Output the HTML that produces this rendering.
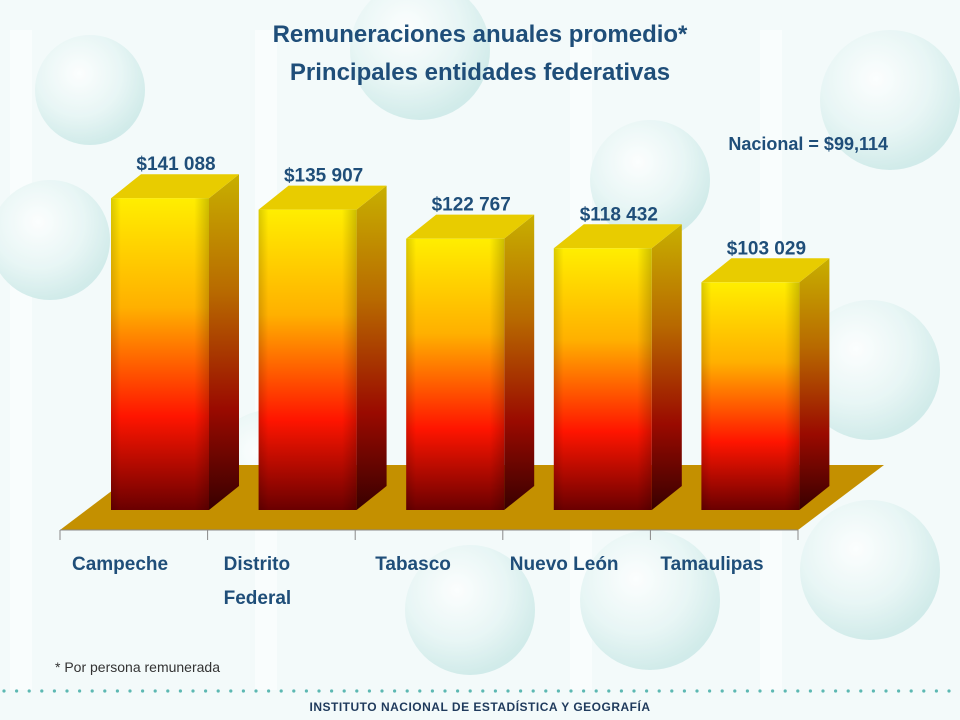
<!DOCTYPE html>
<html><head><meta charset="utf-8"><style>
body{margin:0;width:960px;height:720px;overflow:hidden;font-family:"Liberation Sans",sans-serif}
svg{display:block}
</style></head><body>
<svg width="960" height="720" viewBox="0 0 960 720">
<defs>
<radialGradient id="bub" cx="40%" cy="35%" r="65%"><stop offset="0" stop-color="#ffffff"/><stop offset="0.6" stop-color="#e4f4f3"/><stop offset="1" stop-color="#c6e6e4"/></radialGradient>
<linearGradient id="front" x1="0" y1="0" x2="0" y2="1"><stop offset="0" stop-color="#ffee00"/><stop offset="0.35" stop-color="#ffb000"/><stop offset="0.7" stop-color="#ff1500"/><stop offset="1" stop-color="#6a0000"/></linearGradient>
<linearGradient id="frontSh" x1="0" y1="0" x2="1" y2="0"><stop offset="0" stop-color="#000" stop-opacity="0.15"/><stop offset="0.1" stop-color="#000" stop-opacity="0"/><stop offset="0.85" stop-color="#000" stop-opacity="0"/><stop offset="1" stop-color="#000" stop-opacity="0.2"/></linearGradient>
<linearGradient id="side" x1="0" y1="0" x2="0" y2="1"><stop offset="0" stop-color="#c8b000"/><stop offset="0.35" stop-color="#b86a00"/><stop offset="0.7" stop-color="#9a0a00"/><stop offset="1" stop-color="#380000"/></linearGradient>
</defs>
<rect width="960" height="720" fill="#f3fafa"/>
<g opacity="0.75">
<rect x="10" y="30" width="22" height="660" fill="#fff" opacity="0.7"/>
<rect x="255" y="30" width="22" height="660" fill="#fff" opacity="0.7"/>
<rect x="570" y="30" width="22" height="660" fill="#fff" opacity="0.7"/>
<rect x="760" y="30" width="22" height="660" fill="#fff" opacity="0.7"/>
<circle cx="90" cy="90" r="55" fill="url(#bub)"/>
<circle cx="420" cy="50" r="70" fill="url(#bub)"/>
<circle cx="650" cy="180" r="60" fill="url(#bub)"/>
<circle cx="50" cy="240" r="60" fill="url(#bub)"/>
<circle cx="890" cy="100" r="70" fill="url(#bub)"/>
<circle cx="870" cy="370" r="70" fill="url(#bub)"/>
<circle cx="870" cy="570" r="70" fill="url(#bub)"/>
<circle cx="470" cy="610" r="65" fill="url(#bub)"/>
<circle cx="650" cy="600" r="70" fill="url(#bub)"/>
<circle cx="270" cy="470" r="60" fill="url(#bub)"/>
</g>
<text x="480" y="42" text-anchor="middle" font-size="24" font-weight="bold" fill="#1f4e79">Remuneraciones anuales promedio*</text>
<text x="480" y="80" text-anchor="middle" font-size="24" font-weight="bold" fill="#1f4e79">Principales entidades federativas</text>
<text x="888" y="150" text-anchor="end" font-size="18" font-weight="bold" fill="#1f4e79">Nacional = $99,114</text>
<polygon points="60,530 798,530 884,465 146,465" fill="#c49000"/>
<line x1="60" y1="530" x2="798" y2="530" stroke="#888"/>
<g id="bars"></g>
<g id="labels"></g>
<text x="55" y="672" font-size="14" fill="#333">* Por persona remunerada</text>
<g id="dots"></g>
<text x="480" y="711" text-anchor="middle" font-size="12" font-weight="bold" fill="#1f3a5c" letter-spacing="0.5">INSTITUTO NACIONAL  DE ESTADÍSTICA Y GEOGRAFÍA</text>
</svg>
<script>
const categories = ["Campeche", "Distrito Federal", "Tabasco", "Nuevo León", "Tamaulipas"];
const values = [141088, 135907, 122767, 118432, 103029];
const valueLabels = ["$141 088", "$135 907", "$122 767", "$118 432", "$103 029"];
const NS = "http://www.w3.org/2000/svg";
const x0 = 60, band = 147.6, baseY = 510, scale = 0.00221, barW = 98, dx = 30, dy = 24;
function xPos(i){ return x0 + i*band + 51; }
function yPos(v){ return baseY - v*scale; }
const bars = document.getElementById('bars'), labels = document.getElementById('labels');
function mk(tag, attrs, parent){ const e=document.createElementNS(NS,tag); for(const k in attrs) e.setAttribute(k,attrs[k]); parent.appendChild(e); return e; }
values.forEach((v,i)=>{
  const x=xPos(i), y=yPos(v);
  const g=mk('g',{},bars);
  
  
  mk('polygon',{points:`${x+barW},${y} ${x+barW+dx},${y-dy} ${x+barW+dx},${baseY-dy} ${x+barW},${baseY}`,fill:'url(#side)'},g);
  mk('polygon',{points:`${x},${y} ${x+dx},${y-dy} ${x+barW+dx},${y-dy} ${x+barW},${y}`,fill:'#e8cc00'},g);
  mk('rect',{x:x,y:y,width:barW,height:baseY-y,fill:'url(#front)'},g);
  mk('rect',{x:x,y:y,width:barW,height:baseY-y,fill:'url(#frontSh)'},g);
  const t=mk('text',{x:x+barW/2+16,y:y-28,'text-anchor':'middle','font-size':19,'font-weight':'bold',fill:'#1f4e79'},labels);
  t.textContent=valueLabels[i];
  
  
  const parts=categories[i]==="Distrito Federal"?["Distrito","Federal"]:[categories[i]];
  parts.forEach((p,j)=>{
    const c=mk('text',{x:x0+i*band+(i==0?12:i==1?16:i==2?20:i==3?7:10),y:570+j*34,'font-size':19,'font-weight':'bold',fill:'#1f4e79'},labels);
    c.textContent=p;
    
    
  });
  const tk=mk('line',{x1:x0+i*band,y1:530,x2:x0+i*band,y2:540,stroke:'#888'},labels);
  
  
});
const lt=mk('line',{x1:x0+5*band,y1:530,x2:x0+5*band,y2:540,stroke:'#888'},labels);


const dots=document.getElementById('dots');
for(let x=4;x<960;x+=12.6){ mk('circle',{cx:x,cy:691,r:1.6,fill:'#5cb8b2'},dots); }
</script>
</body></html>
